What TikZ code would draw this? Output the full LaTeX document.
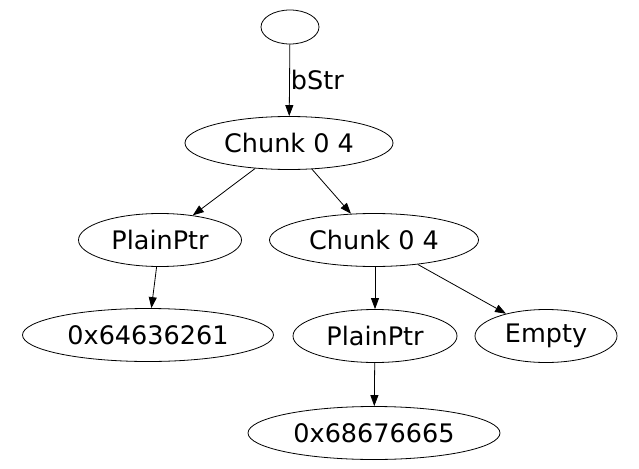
\documentclass[tikz,border=0pt]{standalone}
\usepackage{fontspec}
\setmainfont{DejaVu Sans}
\usetikzlibrary{shapes.geometric,arrows.meta}

\begin{document}
\begin{tikzpicture}[x=1pt,y=-1pt,
    every node/.style={font=\fontsize{25.5}{30}\selectfont},
    blob/.style={draw, ellipse, line width=0.8pt, inner sep=0pt, minimum height=53pt},
    link/.style={line width=0.8pt, -{Triangle[length=11pt,width=8pt]}}]
    \useasboundingbox (0,0) rectangle (639,468);

    \node[blob, minimum width=58pt, minimum height=34pt] (root) at (290,27) {};
    \node[blob, minimum width=208pt] (chunkA) at (289,143) {Chunk 0 4};
    \node[blob, minimum width=163pt] (ptrA) at (160,240) {PlainPtr};
    \node[blob, minimum width=209pt] (chunkB) at (374,240) {Chunk 0 4};
    \node[blob, minimum width=251pt] (valA) at (148,335) {0x64636261};
    \node[blob, minimum width=164pt] (ptrB) at (375,336) {PlainPtr};
    \node[blob, minimum width=142pt] (empty) at (546,336) {Empty};
    \node[blob, minimum width=252pt] (valB) at (374,433) {0x68676665};

    \draw[link] (root) -- node[right, inner sep=1pt] {bStr} (chunkA);
    \draw[link] (chunkA) -- (ptrA);
    \draw[link] (chunkA) -- (chunkB);
    \draw[link] (ptrA) -- (valA);
    \draw[link] (chunkB.south -| ptrB) -- (ptrB);
    \draw[link] (chunkB) -- (empty);
    \draw[link] (ptrB) -- (valB);
\end{tikzpicture}
\end{document}
